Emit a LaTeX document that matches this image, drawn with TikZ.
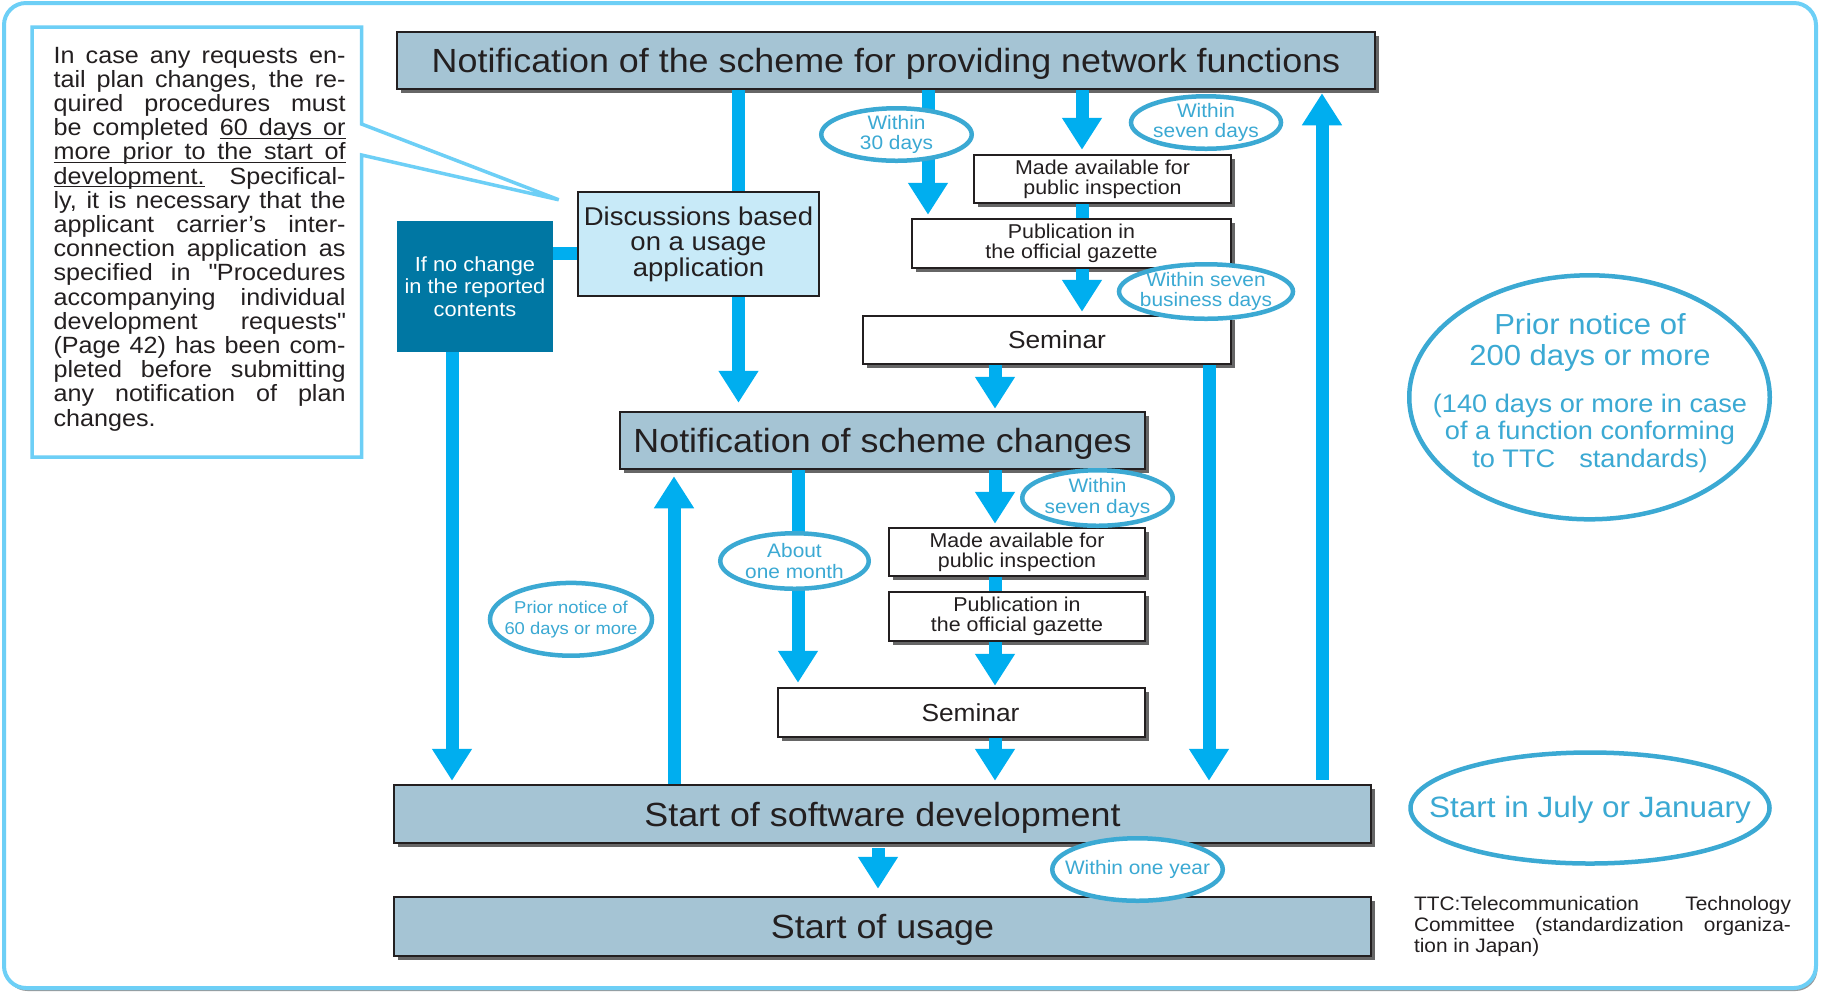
\documentclass[tikz,border=0pt]{standalone}
\usepackage{fontspec}
\setmainfont[FakeStretch=1.07]{Liberation Sans}
\usetikzlibrary{arrows.meta,positioning,shapes.geometric,shadows}
\definecolor{ink}{HTML}{231F20}
\definecolor{slate}{HTML}{A5C4D4}
\definecolor{pale}{HTML}{C8EAF8}
\definecolor{deepteal}{HTML}{0077A3}
\definecolor{cyanbar}{HTML}{00AEEF}
\definecolor{ringblue}{HTML}{3BA9D3}
\definecolor{frameblue}{HTML}{6DCFF6}
% underlined word and underlined stretchable space
\newcommand\ulw[1]{\setbox0\hbox{#1}\rlap{\vrule height -1pt depth 1.6pt width\wd0}\box0\relax}
\newcommand\ulsp{\leaders\hrule height -1pt depth 1.6pt
  \hskip\fontdimen2\font plus\fontdimen3\font minus\fontdimen4\font\relax}

\begin{document}
\begin{tikzpicture}[x=0.5pt,y=-0.5pt,
  font=\fontsize{10}{10}\selectfont,
  dropsh/.style={drop shadow={shadow xshift=1.75pt,shadow yshift=-1.75pt,
                 opacity=1,fill=black!60}},
  title/.style={dropsh,draw=ink,line width=1.25pt,fill=slate,text=ink,
                inner sep=0pt,minimum height=28.5pt,text depth=0pt,
                font=\fontsize{16.75}{18}\selectfont},
  wbox/.style={dropsh,draw=ink,line width=1.25pt,fill=white,text=ink,
               inner sep=0pt,align=center,minimum height=24pt},
  sembox/.style={wbox,font=\fontsize{12.3}{13}\selectfont},
  lab/.style={ellipse,draw=ringblue,line width=2.25pt,fill=white,
              inner sep=-10pt,text=ringblue,align=center,
              font=\fontsize{9.75}{10.25}\selectfont},
  pipe/.style={draw=cyanbar,line width=6.5pt},
  ar/.style={pipe,-{Triangle[width=19pt,length=16pt]}}]

\useasboundingbox (0,0) rectangle (1822,993);
% outer frame
\draw[draw=frameblue,line width=2pt,rounded corners=11pt,fill=white,
      drop shadow={shadow xshift=0.75pt,shadow yshift=-1.5pt,opacity=1,fill=black!40}]
  (4,3) rectangle (1816,988);

% main steps
\node[title,minimum width=489pt] (top) at (886,60.5)
  {Notification of the scheme for providing network functions};
\node[draw=ink,line width=1.25pt,fill=pale,text=ink,inner sep=0pt,align=center,
      minimum width=120.5pt,minimum height=52pt,
      font=\fontsize{12.85}{12.75}\selectfont] (disc) at (698.5,244)
  {Discussions based\\on a usage\\application};
\node[fill=deepteal,text=white,inner sep=0pt,align=center,minimum width=78pt,
      minimum height=65.5pt,font=\fontsize{10.2}{11.25}\selectfont] (nochg) at (475,286.5)
  {If no change\\in the reported\\contents};
\node[wbox,minimum width=128.5pt] (avl1) at (1102.5,179) {Made available for\\public inspection};
\node[wbox,minimum width=159.5pt,minimum height=24.5pt] (pub1) at (1071.5,243.5)
  {Publication in\\the official gazette};
\node[sembox,minimum width=184pt] (sem1) at (1047,340) {\hspace*{10pt}Seminar};
\node[title,minimum width=262.5pt] (chg) at (882.5,440.5) {Notification of scheme changes};
\node[wbox,minimum width=128pt] (avl2) at (1017,552) {Made available for\\public inspection};
\node[wbox,minimum width=128pt,minimum height=24.5pt,below=6.75pt of avl2] (pub2)
  {Publication in\\the official gazette};
\node[sembox,minimum width=183.5pt,minimum height=24.5pt] (sem2) at (961.5,712.5)
  {\hspace*{9pt}Seminar};
\node[title,minimum width=488.5pt,minimum height=29pt] (sw) at (882.5,814)
  {Start of software development};
\node[title,minimum width=488.5pt,minimum height=29.5pt,below=25.75pt of sw] (use)
  {Start of usage};

% note with callout
\coordinate (tip) at ([xshift=-9pt,yshift=-4.5pt]disc.north west);
\draw[draw=frameblue,line width=1.75pt,fill=white]
  (32,27) -- (361.5,27) -- (361.5,124) -- (tip) -- (361.5,155) -- (361.5,457)
  -- (32,457) -- cycle;
\node[text=ink,text width=146pt,align=justify,inner sep=0pt,
      font=\fontsize{11.75}{12.1}\selectfont] (memo) at (199.6,239)
  {\tolerance=10000\hyphenpenalty=10000
   In case any requests en-\linebreak
   tail plan changes, the re-\linebreak
   quired procedures must\linebreak
   be completed \ulw{60}\ulsp\ulw{days}\ulsp\ulw{or}\linebreak
   \ulw{more}\ulsp\ulw{prior}\ulsp\ulw{to}\ulsp\ulw{the}\ulsp\ulw{start}\ulsp\ulw{of}\linebreak
   \ulw{development.} Specifical-\linebreak
   ly, it is necessary that the\linebreak
   applicant carrier's inter-\linebreak
   connection application as\linebreak
   specified in \textquotedbl Procedures\linebreak
   accompanying individual\linebreak
   development requests\textquotedbl\linebreak
   (Page 42) has been com-\linebreak
   pleted before submitting\linebreak
   any notification of plan\linebreak
   changes.};

% arrow columns
\coordinate (cA) at (738.5,0);
\coordinate (cB) at (928,0);
\coordinate (cC) at (1082,0);
\coordinate (cD) at (1322,0);
\coordinate (cE) at (1209,0);
\coordinate (cF) at (995,0);
\coordinate (cG) at (452,0);
\coordinate (cH) at (674,0);
\coordinate (cI) at (798,0);
\coordinate (cJ) at (878,0);

\draw[pipe] (top.south -| cA) -- (disc.north -| cA);
\draw[ar,shorten >=4pt] (disc.south -| cA) -- (chg.north -| cA);
\draw[ar,shorten >=1.5pt] (top.south -| cB) -- (pub1.north -| cB);
\draw[ar,shorten >=2pt] (top.south -| cC) -- (avl1.north -| cC);
\draw[pipe] (avl1.south -| cC) -- (pub1.north -| cC);
\draw[ar,shorten >=1.5pt] (pub1.south -| cC) -- (sem1.north -| cC);
\draw[ar,shorten >=1pt] (sem1.south -| cF) -- (chg.north -| cF);
\draw[ar,shorten >=1.5pt] (sem1.south -| cE) -- (sw.north -| cE);
\draw[ar,shorten <=2pt,shorten >=1.5pt] (sw.north -| cD) -- (top.south -| cD);
\draw[pipe] ([yshift=16.75pt]nochg.east) -- ([yshift=16.75pt]nochg.east -| disc.west);
\draw[ar,shorten >=1.5pt] (nochg.south -| cG) -- (sw.north -| cG);
\draw[ar,shorten >=3pt] (sw.north -| cH) -- (chg.south -| cH);
\draw[ar,shorten >=2pt] (chg.south -| cI) -- (sem2.north -| cI);
\draw[ar,shorten >=1.5pt] (chg.south -| cF) -- (avl2.north -| cF);
\draw[pipe] (avl2.south -| cF) -- (pub2.north -| cF);
\draw[ar,shorten >=0.5pt] (pub2.south -| cF) -- (sem2.north -| cF);
\draw[ar,shorten >=1.5pt] (sem2.south -| cF) -- (sw.north -| cF);
\draw[ar,shorten <=2pt,shorten >=3.5pt] (sw.south -| cJ) -- (use.north -| cJ);

% time labels
\node[lab,minimum width=75.25pt,minimum height=26.25pt] (w30) at (896.5,134.5) {Within\\30 days};
\node[lab,minimum width=75pt,minimum height=26.25pt] (w7a) at (1206,122.5) {Within\\seven days};
\node[lab,minimum width=87pt,minimum height=27.25pt] (w7b) at (1206,291.5) {Within seven\\business days};
\node[lab,minimum width=74.25pt,minimum height=27.75pt] (w1m) at (794.5,561) {About\\one month};
\node[lab,minimum width=81pt,minimum height=36.4pt,font=\fontsize{8.6}{10.5}\selectfont] (w60)
  at (571,619.3) {Prior notice of\\60 days or more};
\node[lab,minimum width=75.25pt,minimum height=27.75pt] (w7c) at (1097.5,498) {Within\\seven days};
\node[lab,minimum width=85.25pt,minimum height=31.25pt] (w1y) at (1137.5,869.5) {Within one year};

\node[lab,minimum width=180.25pt,minimum height=122pt] (w200) at (1589.5,397.3) {};
\node[text=ringblue,align=center,inner sep=0pt,font=\fontsize{14.5}{15.75}\selectfont] (w200a)
  at (1590,342.4) {Prior notice of\\200 days or more};
\node[text=ringblue,align=center,inner sep=0pt,font=\fontsize{12.7}{13.85}\selectfont] (w200b)
  at (1590,433.4) {(140 days or more in case\\of a function conforming\\to TTC\hspace{12pt}standards)};
\node[lab,minimum width=179.5pt,minimum height=55.5pt] (jul) at (1590,808) {};
\node[text=ringblue,inner sep=0pt,font=\fontsize{14.7}{16}\selectfont] (jult) at (1590,810)
  {Start in July or January};

\node[text=ink,text width=188.5pt,align=justify,inner sep=0pt,
      font=\fontsize{9.75}{10.5}\selectfont] (ttc) at (1602.5,926)
  {TTC:Telecommunication Technology\linebreak
   Committee (standardization organiza-\linebreak
   tion in Japan)};
\end{tikzpicture}
\end{document}
